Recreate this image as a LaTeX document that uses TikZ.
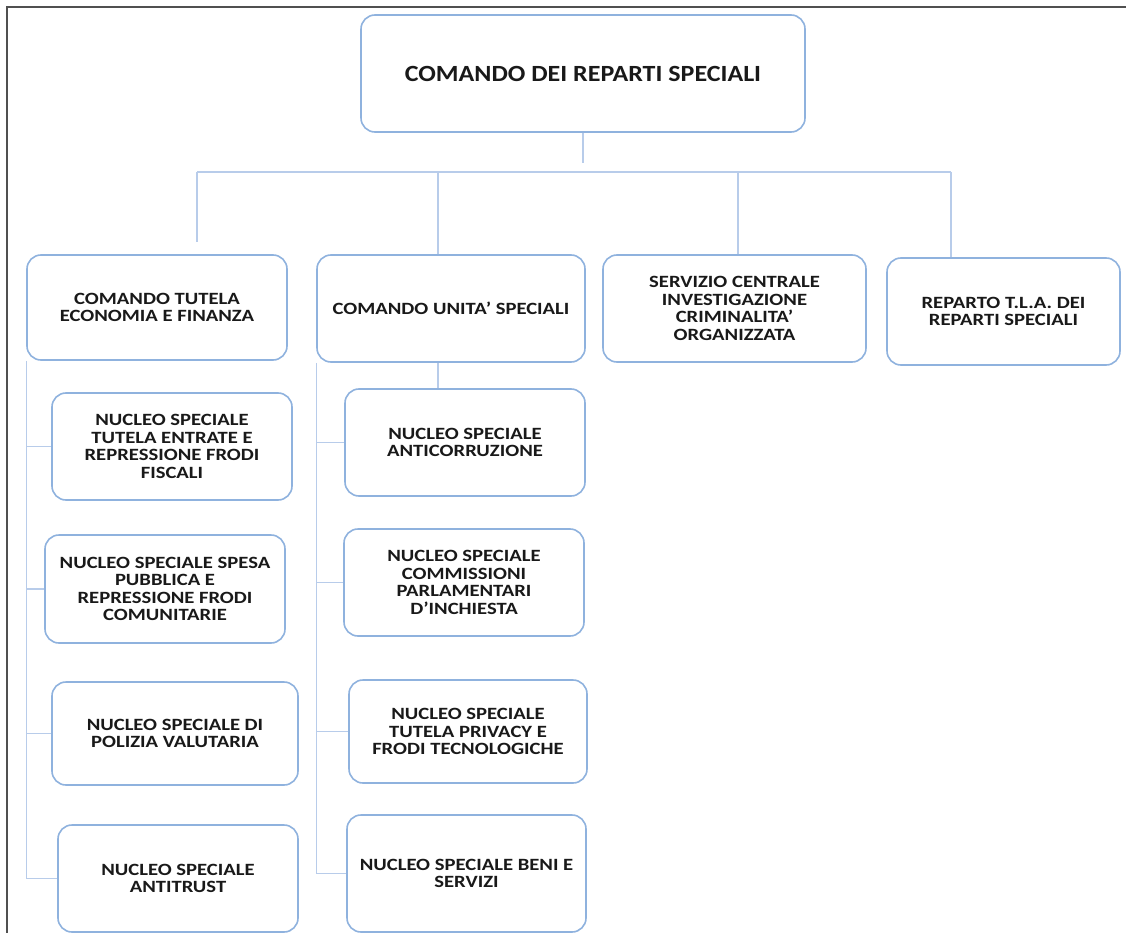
\documentclass[tikz,border=0pt]{standalone}
\usepackage{fontspec}
\setmainfont{Carlito}[FakeStretch=1.12]
\newfontfamily\widefont{Carlito}[FakeStretch=1.2]
\usetikzlibrary{calc}
\definecolor{boxblue}{RGB}{143,178,222}
\definecolor{lineblue}{RGB}{184,204,234}
\definecolor{framegray}{RGB}{80,80,80}
\tikzset{
  box/.style={draw=boxblue, line width=1.6pt, rounded corners=14pt, align=center, font=\widefont\bfseries\fontsize{17.2}{17.6}\selectfont, inner sep=2pt, fill=white, text=black!90},
  topbox/.style={box, font=\bfseries\fontsize{23.2}{24}\selectfont},
  link/.style={draw=lineblue, line width=1.4pt},
  frm/.style={draw=framegray, line width=2.2pt},
}
\begin{document}
\begin{tikzpicture}[x=1pt,y=-1pt]
\useasboundingbox (0,0) rectangle (1126,933);
\draw[frm] (7,933) -- (7,7) -- (1126,7);
% comando
\node[topbox, minimum width=444pt, minimum height=117pt] (crs) at (583,73.5) {COMANDO DEI REPARTI SPECIALI};
% reparti
\node[box, minimum width=260pt, minimum height=105pt] (ctef) at (157,307.5) {COMANDO TUTELA\\ECONOMIA E FINANZA};
\node[box, minimum width=268pt, minimum height=107pt] (cus) at (451,308.5) {COMANDO UNITA’ SPECIALI};
\node[box, minimum width=263pt, minimum height=107pt] (scico) at (734.5,308.5) {SERVIZIO CENTRALE\\INVESTIGAZIONE\\CRIMINALITA’\\ORGANIZZATA};
\node[box, minimum width=233pt, minimum height=107pt] (tla) at (1003.5,311.5) {REPARTO T.L.A. DEI\\REPARTI SPECIALI};
% nuclei tutela economia
\node[box, minimum width=240pt, minimum height=107pt] (ns1) at (172,446.5) {NUCLEO SPECIALE\\TUTELA ENTRATE E\\REPRESSIONE FRODI\\FISCALI};
\node[box, minimum width=240pt, minimum height=108pt] (ns2) at (165,589) {NUCLEO SPECIALE SPESA\\PUBBLICA E\\REPRESSIONE FRODI\\COMUNITARIE};
\node[box, minimum width=246pt, minimum height=103pt] (ns3) at (175,733.5) {NUCLEO SPECIALE DI\\POLIZIA VALUTARIA};
\node[box, minimum width=240pt, minimum height=107pt] (ns4) at (178,878.5) {NUCLEO SPECIALE\\ANTITRUST};
% nuclei unita speciali
\node[box, minimum width=240pt, minimum height=107pt] (nm1) at (465,442.5) {NUCLEO SPECIALE\\ANTICORRUZIONE};
\node[box, minimum width=240pt, minimum height=107pt] (nm2) at (464,582.5) {NUCLEO SPECIALE\\COMMISSIONI\\PARLAMENTARI\\D’INCHIESTA};
\node[box, minimum width=238pt, minimum height=103pt] (nm3) at (468,731.5) {NUCLEO SPECIALE\\TUTELA PRIVACY E\\FRODI TECNOLOGICHE};
\node[box, minimum width=239pt, minimum height=117pt] (nm4) at (466.5,873.5) {NUCLEO SPECIALE BENI E\\SERVIZI};
% collegamenti
\coordinate (stem) at (583,163);
\coordinate (bus1) at (197,172);
\coordinate (bus2) at (438,172);
\coordinate (bus3) at (738,172);
\coordinate (bus4) at (951,172);
\coordinate (drop1) at (197,242);
\draw[link] (crs.south) -- (stem);
\draw[link] (bus1) -- (bus4);
\draw[link] (bus1) -- (drop1);
\draw[link] (bus2) -- (bus2 |- cus.north);
\draw[link] (bus3) -- (bus3 |- scico.north);
\draw[link] (bus4) -- (bus4 |- tla.north);
\draw[link] (bus2 |- cus.south) -- (bus2 |- nm1.north);
\draw[link] (ctef.south west) |- (ns4.west);
\draw[link] (ctef.south west |- ns1.west) -- (ns1.west);
\draw[link] (ctef.south west |- ns2.west) -- (ns2.west);
\draw[link] (ctef.south west |- ns3.west) -- (ns3.west);
\draw[link] (cus.south west) |- (nm4.west);
\draw[link] (cus.south west |- nm1.west) -- (nm1.west);
\draw[link] (cus.south west |- nm2.west) -- (nm2.west);
\draw[link] (cus.south west |- nm3.west) -- (nm3.west);
\end{tikzpicture}
\end{document}
